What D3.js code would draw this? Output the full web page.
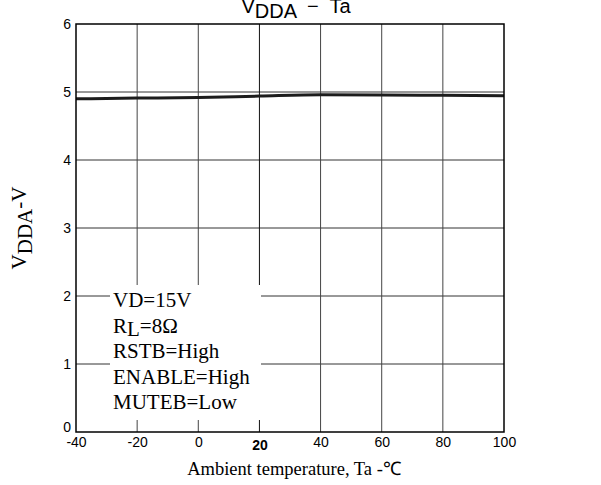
<!DOCTYPE html>
<html>
<head>
<meta charset="utf-8">
<script src="https://cdn.jsdelivr.net/npm/d3@7"></script>
<style>
  body { margin: 0; background: #fff; }
  svg { display: block; }
</style>
</head>
<body>
<script>
// values
const temps = [-40, -20, 0, 20, 40, 60, 80, 100];
const vdda = [4.90, 4.91, 4.92, 4.94, 4.958, 4.956, 4.951, 4.946];
const xTicks = [-40, -20, 0, 20, 40, 60, 80, 100];
const yTicks = [0, 1, 2, 3, 4, 5, 6];
const notes = ["VD=15V", "RL=8Ω", "RSTB=High", "ENABLE=High", "MUTEB=Low"];

const width = 601, height = 485;
const margin = {top: 24, right: 97, bottom: 53, left: 76};

const svg = d3.select('body').append('svg')
  .attr('width', width)
  .attr('height', height);

const x = d3.scaleLinear().domain([-40, 100]).range([margin.left, width - margin.right]);
const y = d3.scaleLinear().domain([0, 6]).range([height - margin.bottom, margin.top]);

const sans = "'Liberation Sans', Arial, sans-serif";
const serif = "'Liberation Serif', 'Times New Roman', serif";

// grid lines
svg.append('g')
  .selectAll('line')
  .data(yTicks.slice(1, -1))
  .enter().append('line')
  .attr('x1', x(-40)).attr('x2', x(100))
  .attr('y1', d => y(d)).attr('y2', d => y(d))
  .attr('stroke', '#333').attr('stroke-width', 1);

svg.append('g')
  .selectAll('line')
  .data(xTicks.slice(1, -1))
  .enter().append('line')
  .attr('x1', d => x(d)).attr('x2', d => x(d))
  .attr('y1', y(0)).attr('y2', y(6))
  .attr('stroke', d => d === 20 ? '#111' : '#444').attr('stroke-width', 1);

// data line
const line = d3.line()
  .x((d, i) => x(temps[i]))
  .y(d => y(d))
  .curve(d3.curveMonotoneX);

svg.append('path')
  .datum(vdda)
  .attr('d', line)
  .attr('fill', 'none')
  .attr('stroke', '#1c1c1c')
  .attr('stroke-width', 3);

// condition box hides the grid behind it
svg.append('rect')
  .attr('x', 110).attr('y', 285)
  .attr('width', 151).attr('height', 135)
  .attr('fill', '#fff');

// frame
svg.append('rect')
  .attr('x', x(-40)).attr('y', y(6))
  .attr('width', x(100) - x(-40)).attr('height', y(0) - y(6))
  .attr('fill', 'none').attr('stroke', '#000').attr('stroke-width', 1.5);

// axes (labels only, frame drawn above)
const xAxis = svg.append('g')
  .attr('transform', `translate(0,${y(0)})`)
  .call(d3.axisBottom(x).tickValues(xTicks).tickSize(0).tickPadding(5).tickFormat(d => String(d)));
xAxis.select('.domain').remove();
xAxis.selectAll('text')
  .attr('font-family', sans).attr('font-size', 14).attr('fill', '#000')
  .filter(d => d === 20)
  .attr('font-weight', 'bold').attr('dy', '0.95em');

const yAxis = svg.append('g')
  .attr('transform', `translate(${x(-40)},0)`)
  .call(d3.axisLeft(y).tickValues(yTicks).tickSize(0).tickPadding(5).tickFormat(d => String(d)));
yAxis.select('.domain').remove();
yAxis.selectAll('text')
  .attr('font-family', sans).attr('font-size', 14).attr('fill', '#000')
  .filter(d => d === 0)
  .attr('dy', '-0.05em');

// title
const title = svg.append('text')
  .attr('x', 296).attr('y', 13)
  .attr('text-anchor', 'middle')
  .attr('font-family', sans).attr('font-size', 20).attr('fill', '#000');
title.append('tspan').text('V');
title.append('tspan').attr('dy', 5).text('DDA');
title.append('tspan').attr('dy', -5).text('  −  Ta').attr('xml:space', 'preserve');

// axis titles
svg.append('text')
  .attr('x', 294).attr('y', 475)
  .attr('text-anchor', 'middle')
  .attr('font-family', serif).attr('font-size', 18.5).attr('fill', '#000')
  .text('Ambient temperature, Ta  -℃');

const ylab = svg.append('text')
  .attr('transform', `translate(26,${(y(0) + y(6)) / 2}) rotate(-90)`)
  .attr('text-anchor', 'middle')
  .attr('font-family', serif).attr('font-size', 21).attr('fill', '#000');
ylab.append('tspan').text('V');
ylab.append('tspan').attr('dy', 6).text('DDA');
ylab.append('tspan').attr('dy', -6).text('-V');

// conditions
const cond = svg.append('g')
  .attr('font-family', serif).attr('font-size', 21).attr('fill', '#000');
notes.forEach((n, i) => {
  const t = cond.append('text').attr('x', 113).attr('y', 307 + i * 25.5);
  if (n.startsWith('RL')) {
    t.append('tspan').text('R');
    t.append('tspan').attr('dy', 3).text('L');
    t.append('tspan').attr('dy', -3).text(n.slice(2));
  } else {
    t.text(n);
  }
});
</script>
</body>
</html>
